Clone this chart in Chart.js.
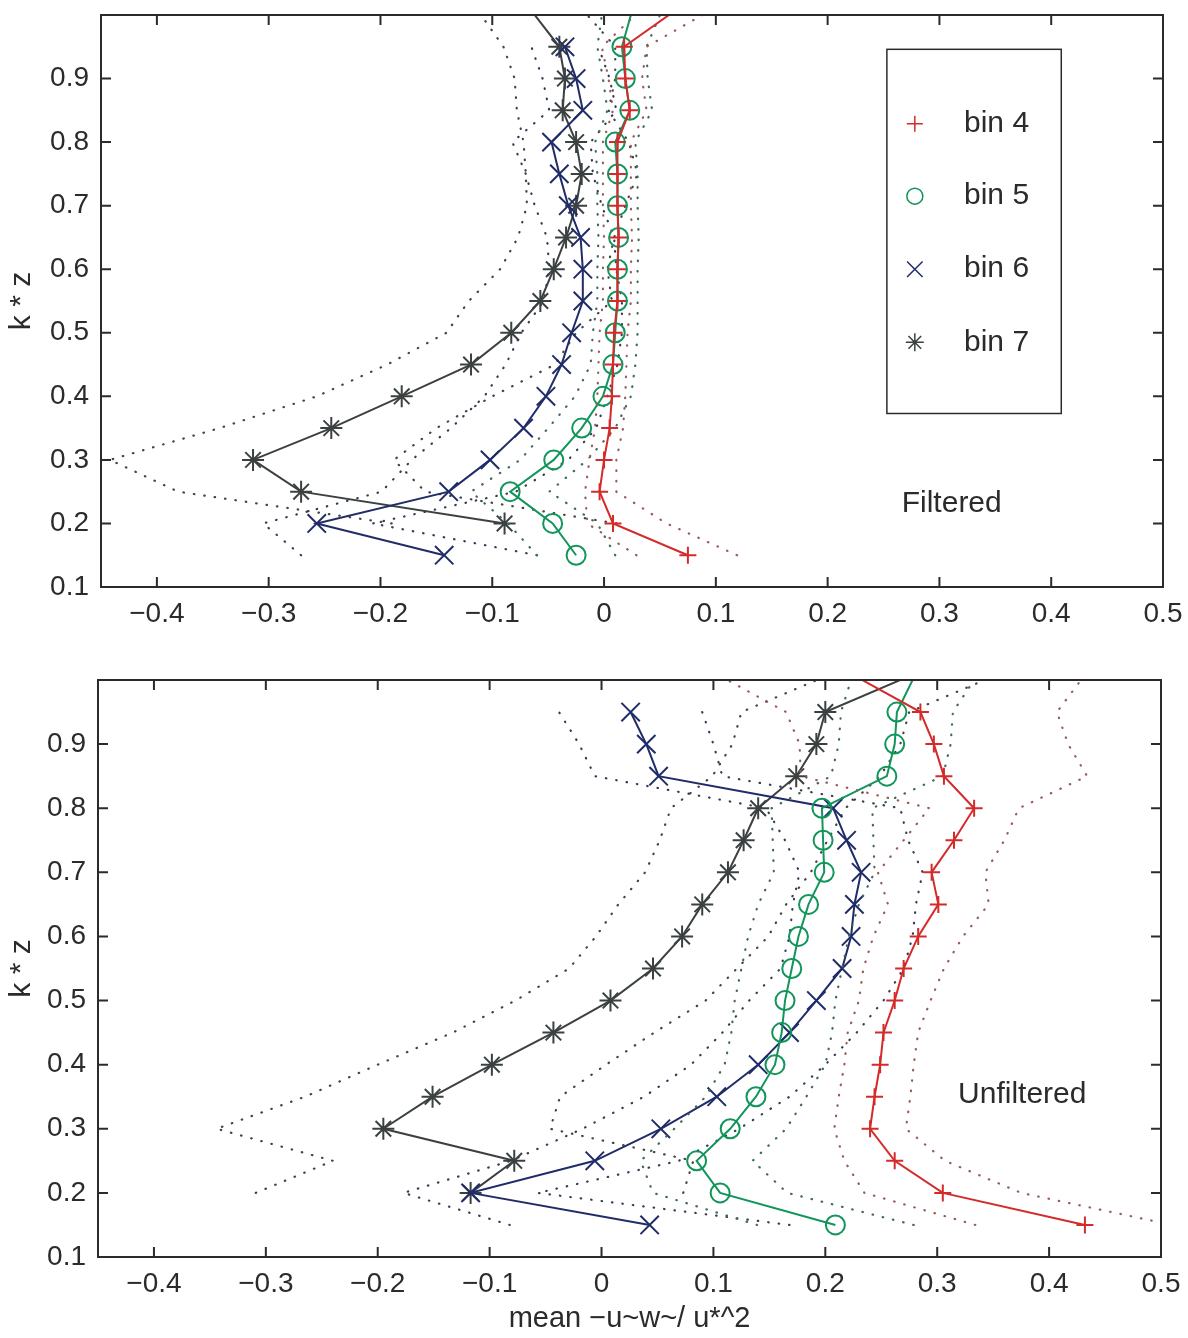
<!DOCTYPE html>
<html>
<head>
<meta charset="utf-8">
<script src="https://cdn.jsdelivr.net/npm/chart.js@4.4.1/dist/chart.umd.min.js"></script>
<style>
  body { margin: 0; background: #fff; }
  .panel { position: absolute; left: 0; }
</style>
</head>
<body>
<div class="panel" style="top:0px"><canvas id="filtered" width="1188" height="640"></canvas></div>
<div class="panel" style="top:640px"><canvas id="unfiltered" width="1188" height="698"></canvas></div>
<script>
// k*z levels (1.05 is just above the frame, lines run out through the top)
const levels = [0.15, 0.2, 0.25, 0.3, 0.35, 0.4, 0.45, 0.5, 0.55, 0.6, 0.65, 0.7, 0.75, 0.8, 0.85, 0.9, 0.95, 1.05];
const xTicks = [-0.4, -0.3, -0.2, -0.1, 0, 0.1, 0.2, 0.3, 0.4, 0.5];
const yTicks = [0.1, 0.2, 0.3, 0.4, 0.5, 0.6, 0.7, 0.8, 0.9];
const binNames = ['bin 4', 'bin 5', 'bin 6', 'bin 7'];

// filtered
const f4 = [0.075, 0.008, -0.004, 0.000, 0.005, 0.007, 0.008, 0.009, 0.012, 0.012, 0.013, 0.012, 0.012, 0.012, 0.023, 0.019, 0.018, 0.098];
const f4lo = [0.029, -0.015, -0.017, -0.013, -0.008, -0.006, -0.005, -0.004, -0.001, -0.001, 0.000, -0.001, -0.001, -0.001, 0.008, 0.004, -0.002, 0.058];
const f4hi = [0.119, 0.056, 0.011, 0.011, 0.017, 0.019, 0.020, 0.021, 0.024, 0.024, 0.025, 0.024, 0.024, 0.024, 0.038, 0.034, 0.038, 0.138];
const f5 = [-0.025, -0.046, -0.084, -0.045, -0.020, -0.001, 0.008, 0.010, 0.012, 0.012, 0.013, 0.012, 0.012, 0.010, 0.023, 0.019, 0.016, 0.032];
const f5lo = [-0.060, -0.086, -0.119, -0.075, -0.050, -0.026, -0.012, -0.010, -0.006, -0.006, -0.005, -0.006, -0.006, -0.008, 0.003, -0.001, -0.006, 0.002];
const f5hi = [0.010, -0.006, -0.049, -0.015, 0.010, 0.024, 0.028, 0.030, 0.030, 0.030, 0.031, 0.030, 0.030, 0.028, 0.043, 0.039, 0.038, 0.062];
const f6 = [-0.143, -0.257, -0.139, -0.102, -0.072, -0.052, -0.038, -0.029, -0.019, -0.019, -0.021, -0.032, -0.040, -0.047, -0.019, -0.025, -0.035, null];
const f6lo = [-0.271, -0.305, -0.199, -0.172, -0.137, -0.107, -0.088, -0.074, -0.054, -0.049, -0.051, -0.062, -0.070, -0.082, -0.049, -0.055, -0.065, null];
const f6hi = [-0.060, -0.207, -0.079, -0.032, -0.007, 0.003, 0.012, 0.016, 0.016, 0.011, 0.009, -0.002, -0.010, -0.012, 0.011, 0.005, -0.005, null];
const f7 = [null, -0.089, -0.271, -0.314, -0.244, -0.181, -0.119, -0.083, -0.057, -0.045, -0.034, -0.025, -0.020, -0.025, -0.037, -0.035, -0.040, -0.084];
const f7lo = [null, -0.190, -0.381, -0.442, -0.344, -0.257, -0.194, -0.141, -0.121, -0.093, -0.077, -0.069, -0.070, -0.072, -0.078, -0.080, -0.090, -0.130];
const f7hi = [null, 0.011, -0.160, -0.188, -0.150, -0.100, -0.044, -0.025, 0.007, 0.003, 0.009, 0.019, 0.030, 0.022, 0.004, 0.010, 0.010, -0.040];

// unfiltered
const u4 = [0.432, 0.305, 0.262, 0.240, 0.244, 0.249, 0.252, 0.262, 0.270, 0.283, 0.301, 0.295, 0.315, 0.333, 0.306, 0.297, 0.285, 0.181];
const u4lo = [0.334, 0.235, 0.217, 0.208, 0.212, 0.217, 0.220, 0.230, 0.234, 0.243, 0.256, 0.247, 0.270, 0.293, 0.178, 0.177, 0.165, 0.060];
const u4hi = [0.510, 0.375, 0.307, 0.272, 0.276, 0.279, 0.283, 0.294, 0.306, 0.323, 0.346, 0.343, 0.360, 0.373, 0.434, 0.417, 0.407, 0.450];
const u5 = [0.209, 0.106, 0.085, 0.115, 0.138, 0.155, 0.161, 0.164, 0.170, 0.176, 0.185, 0.199, 0.198, 0.197, 0.255, 0.262, 0.264, 0.292];
const u5lo = [0.139, 0.046, 0.035, 0.065, 0.093, 0.110, 0.116, 0.119, 0.125, 0.131, 0.140, 0.154, 0.153, 0.152, 0.205, 0.212, 0.214, 0.232];
const u5hi = [0.279, 0.166, 0.135, 0.165, 0.183, 0.200, 0.206, 0.209, 0.215, 0.221, 0.230, 0.244, 0.243, 0.242, 0.305, 0.312, 0.314, 0.352];
const u6 = [0.043, -0.117, -0.006, 0.053, 0.103, 0.140, 0.168, 0.192, 0.215, 0.223, 0.226, 0.232, 0.219, 0.207, 0.051, 0.040, 0.026, null];
const u6lo = [-0.082, -0.177, -0.081, -0.017, 0.038, 0.080, 0.108, 0.132, 0.160, 0.168, 0.171, 0.177, 0.164, 0.147, -0.006, -0.020, -0.038, null];
const u6hi = [0.168, -0.057, 0.069, 0.123, 0.168, 0.200, 0.228, 0.252, 0.270, 0.278, 0.281, 0.287, 0.274, 0.267, 0.108, 0.100, 0.090, null];
const u7 = [null, -0.117, -0.078, -0.195, -0.151, -0.098, -0.043, 0.008, 0.046, 0.072, 0.090, 0.113, 0.127, 0.140, 0.174, 0.192, 0.200, 0.334];
const u7lo = [null, -0.309, -0.240, -0.344, -0.265, -0.200, -0.133, -0.077, -0.029, -0.005, 0.015, 0.039, 0.052, 0.062, 0.099, 0.117, 0.125, 0.260];
const u7hi = [null, 0.073, 0.082, -0.046, -0.037, 0.004, 0.047, 0.093, 0.121, 0.149, 0.165, 0.187, 0.202, 0.218, 0.249, 0.267, 0.275, 0.410];

const FONT = "'Liberation Sans', Arial, Helvetica, sans-serif";
const styles = [
  { color: '#d42a2a', dot: '#9a5a5a', point: 'cross', r: 8.5, lr: 8 },
  { color: '#11955a', dot: '#3d6a5a', point: 'circle', r: 9.5, lr: 8 },
  { color: '#202c68', dot: '#363a55', point: 'crossRot', r: 13, lr: 11 },
  { color: '#3b4141', dot: '#444444', point: 'star', r: 11, lr: 9 }
];

function pts(vals) {
  return levels.map((z, i) => vals[i] == null ? null : { x: vals[i], y: z }).filter(p => p);
}

function binSets(i, mean, lo, hi) {
  const s = styles[i];
  const band = v => ({
    data: pts(v), showLine: true, pointRadius: 0, borderColor: s.dot,
    borderWidth: 2.2, borderDash: [0.5, 10], borderCapStyle: 'round'
  });
  return [
    {
      label: binNames[i], legendEntry: true, data: pts(mean), showLine: true,
      borderColor: s.color, borderWidth: 2, pointStyle: s.point, pointRadius: s.r,
      pointBorderColor: s.color, pointBackgroundColor: 'rgba(0,0,0,0)', pointBorderWidth: 2
    },
    band(lo), band(hi)
  ];
}

const boxPlugin = {
  id: 'box',
  afterDraw(chart, args, opts) {
    const { ctx, chartArea: a, scales: { x, y } } = chart;
    ctx.save();
    ctx.strokeStyle = '#2b2b2b';
    ctx.lineWidth = 2;
    ctx.strokeRect(a.left, a.top, a.right - a.left, a.bottom - a.top);
    ctx.beginPath();
    xTicks.forEach(v => {
      const px = x.getPixelForValue(v);
      ctx.moveTo(px, a.bottom); ctx.lineTo(px, a.bottom - 10);
      ctx.moveTo(px, a.top); ctx.lineTo(px, a.top + 10);
    });
    yTicks.forEach(v => {
      const py = y.getPixelForValue(v);
      ctx.moveTo(a.left, py); ctx.lineTo(a.left + 10, py);
      ctx.moveTo(a.right, py); ctx.lineTo(a.right - 10, py);
    });
    ctx.stroke();

    ctx.fillStyle = '#2b2b2b';
    ctx.font = '30px ' + FONT;
    ctx.textAlign = 'center';
    ctx.textBaseline = 'middle';
    ctx.fillText(opts.note, x.getPixelForValue(opts.noteAt[0]), y.getPixelForValue(opts.noteAt[1]));

    if (opts.legend) {
      const L = opts.legend;
      const x0 = x.getPixelForValue(L.box[0]), x1 = x.getPixelForValue(L.box[1]);
      const y0 = y.getPixelForValue(L.box[2]), y1 = y.getPixelForValue(L.box[3]);
      ctx.lineWidth = 1.5;
      ctx.strokeRect(x0, y0, x1 - x0, y1 - y0);
      const entries = chart.data.datasets.filter(d => d.legendEntry);
      entries.forEach((d, k) => {
        const py = y.getPixelForValue(L.rows[k]);
        const s = styles[k];
        ctx.strokeStyle = s.color;
        ctx.fillStyle = 'rgba(0,0,0,0)';
        Chart.helpers.drawPoint(ctx, { pointStyle: s.point, radius: s.lr, rotation: 0, borderWidth: 1.7 },
          x.getPixelForValue(L.markX), py);
        ctx.fillStyle = '#2b2b2b';
        ctx.textAlign = 'left';
        ctx.fillText(d.label, x.getPixelForValue(L.textX), py);
      });
    }
    ctx.restore();
  }
};

function makeChart(id, sets, cfg) {
  return new Chart(document.getElementById(id), {
    type: 'scatter',
    data: { datasets: sets },
    plugins: [boxPlugin],
    options: {
      responsive: false,
      animation: false,
      devicePixelRatio: 1,
      layout: { padding: cfg.padding },
      plugins: {
        legend: { display: false },
        tooltip: { enabled: false },
        box: cfg.box
      },
      elements: { line: { tension: 0 } },
      scales: {
        x: {
          type: 'linear', min: -0.45, max: 0.5,
          afterBuildTicks: s => { s.ticks = xTicks.map(v => ({ value: v })); },
          afterFit: s => { s.height = cfg.xHeight; s.paddingLeft = 0; s.paddingRight = 0; },
          grid: { display: false, drawTicks: false },
          border: { display: false },
          ticks: {
            padding: 10, color: '#2b2b2b', maxRotation: 0, autoSkip: false,
            font: { family: FONT, size: 28 },
            callback: v => (v < 0 ? '\u2212' : '') + String(Math.abs(Math.round(v * 10) / 10))
          },
          title: {
            display: !!cfg.xTitle, text: cfg.xTitle, color: '#2b2b2b',
            font: { family: FONT, size: 29 }, padding: { top: 0, bottom: 2 }
          }
        },
        y: {
          type: 'linear', min: 0.1, max: 1.0,
          afterBuildTicks: s => { s.ticks = yTicks.map(v => ({ value: v })); },
          afterFit: s => { s.width = cfg.yWidth; s.paddingTop = 0; s.paddingBottom = 0; },
          grid: { display: false, drawTicks: false },
          border: { display: false },
          ticks: {
            padding: 12, color: '#2b2b2b', autoSkip: false,
            font: { family: FONT, size: 28 },
            callback: v => String(Math.round(v * 10) / 10)
          },
          title: {
            display: true, text: 'k * z', color: '#2b2b2b',
            font: { family: FONT, size: 30 }, padding: { top: 0, bottom: 0 }
          }
        }
      }
    }
  });
}

makeChart('filtered', [
  ...binSets(0, f4, f4lo, f4hi),
  ...binSets(1, f5, f5lo, f5hi),
  ...binSets(2, f6, f6lo, f6hi),
  ...binSets(3, f7, f7lo, f7hi)
], {
  padding: { top: 7, right: 25, left: 4, bottom: 0 },
  xHeight: 53, yWidth: 97,
  box: {
    note: 'Filtered', noteAt: [0.311, 0.231],
    legend: { box: [0.253, 0.409, 0.946, 0.373], rows: [0.829, 0.715, 0.600, 0.485], markX: 0.278, textX: 0.322 }
  }
});

makeChart('unfiltered', [
  ...binSets(0, u4, u4lo, u4hi),
  ...binSets(1, u5, u5lo, u5hi),
  ...binSets(2, u6, u6lo, u6hi),
  ...binSets(3, u7, u7lo, u7hi)
], {
  padding: { top: 40, right: 27, left: 4, bottom: 0 },
  xHeight: 81, yWidth: 94,
  xTitle: 'mean \u2212u~w~/ u*^2',
  box: { note: 'Unfiltered', noteAt: [0.376, 0.353] }
});
</script>
</body>
</html>
